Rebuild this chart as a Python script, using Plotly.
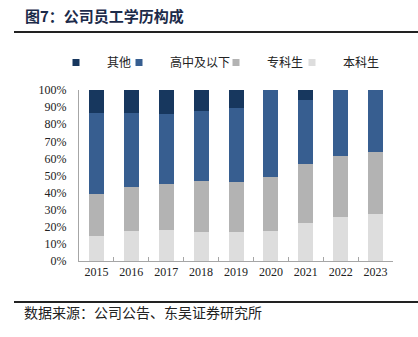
import plotly.graph_objects as go

years = ["2015", "2016", "2017", "2018", "2019", "2020", "2021", "2022", "2023"]
benke = [14.8, 17.5, 18.3, 17.2, 17.2, 17.7, 22.2, 25.5, 27.5]
zhuanke = [24.2, 25.8, 26.5, 29.6, 28.8, 31.6, 34.7, 35.7, 36.0]
gaozhong = [47.7, 43.4, 41.2, 40.9, 43.7, 50.7, 37.3, 38.8, 36.5]
qita = [13.3, 13.3, 14.0, 12.3, 10.3, 0.0, 5.8, 0.0, 0.0]

names = ["本科生", "专科生", "高中及以下", "其他"]
series = [benke, zhuanke, gaozhong, qita]
colors = ["#DDDDDD", "#B3B3B3", "#375E90", "#17375E"]
legend_ids = ["legend4", "legend3", "legend2", "legend"]
# legend marker centers (px) in window
marker_px = [312, 236, 139, 76]

W, H = 418, 337
L, R, T, B = 79, 25, 90, 76
pw, ph = W - L - R, H - T - B

def px2x(px):
    return (px - L) / pw

def py2y(py):
    return (H - B - py) / ph

fig = go.Figure()
for nm, vals, col in zip(names, series, colors):
    fig.add_trace(go.Bar(x=years, y=vals, name=nm, marker=dict(color=col, line=dict(width=0)),
                         showlegend=False))

ITEMW = 52
for nm, col, lid, mpx in zip(names, colors, legend_ids, marker_px):
    fig.add_trace(go.Scatter(x=[None], y=[None], mode="markers", name=nm,
                             marker=dict(symbol="square", size=7, color=col),
                             legend=lid, showlegend=True))

legend_font = dict(family="Noto Sans CJK SC", size=12, color="#222222")
leg_common = dict(orientation="h", xref="container", yref="container",
                  xanchor="left", yanchor="middle", y=1 - 62.5 / H,
                  font=legend_font, itemwidth=ITEMW, bgcolor="rgba(0,0,0,0)",
                  borderwidth=0, itemsizing="trace")
legends = {}
for lid, mpx in zip(legend_ids, marker_px):
    legends[lid] = dict(leg_common, x=(mpx - 5 - ITEMW / 2) / W)

fig.update_layout(
    width=W, height=H,
    margin=dict(l=L, r=R, t=T, b=B, pad=0, autoexpand=False),
    paper_bgcolor="white", plot_bgcolor="white",
    barmode="stack", bargap=0.57,
    font=dict(family="Liberation Serif", size=12, color="#222222"),
    xaxis=dict(type="category", showline=True, linecolor="#A6A6A6", linewidth=1,
               ticks="inside", ticklen=4, tickcolor="#A6A6A6", tickson="boundaries",
               showgrid=False, tickfont=dict(family="Liberation Serif", size=12, color="#222222"),
               fixedrange=True, automargin=False),
    yaxis=dict(range=[0, 100], dtick=10, ticksuffix="%", showline=True, linecolor="#A6A6A6",
               linewidth=1, ticks="", showgrid=False, zeroline=False,
               ticklabelstandoff=9,
               tickfont=dict(family="Liberation Serif", size=12, color="#222222"),
               fixedrange=True, automargin=False),
    showlegend=True,
    **legends,
)

fig.add_annotation(text="<b>图7：公司员工学历构成</b>", xref="paper", yref="paper",
                   x=px2x(23), y=py2y(15), xanchor="left", yanchor="middle", showarrow=False,
                   font=dict(family="Noto Sans CJK SC", size=15, color="#1C2B4A"))
fig.add_annotation(text="数据来源：公司公告、东吴证券研究所", xref="paper", yref="paper",
                   x=px2x(22), y=py2y(312), xanchor="left", yanchor="middle", showarrow=False,
                   font=dict(family="Noto Sans CJK SC", size=14, color="#222222"))

fig.add_shape(type="line", xref="paper", yref="paper", x0=px2x(14), x1=px2x(418),
              y0=py2y(32), y1=py2y(32), line=dict(color="#222222", width=2))
fig.add_shape(type="line", xref="paper", yref="paper", x0=px2x(14), x1=px2x(418),
              y0=py2y(302), y1=py2y(302), line=dict(color="#222222", width=2))

fig.write_html("out.html")
